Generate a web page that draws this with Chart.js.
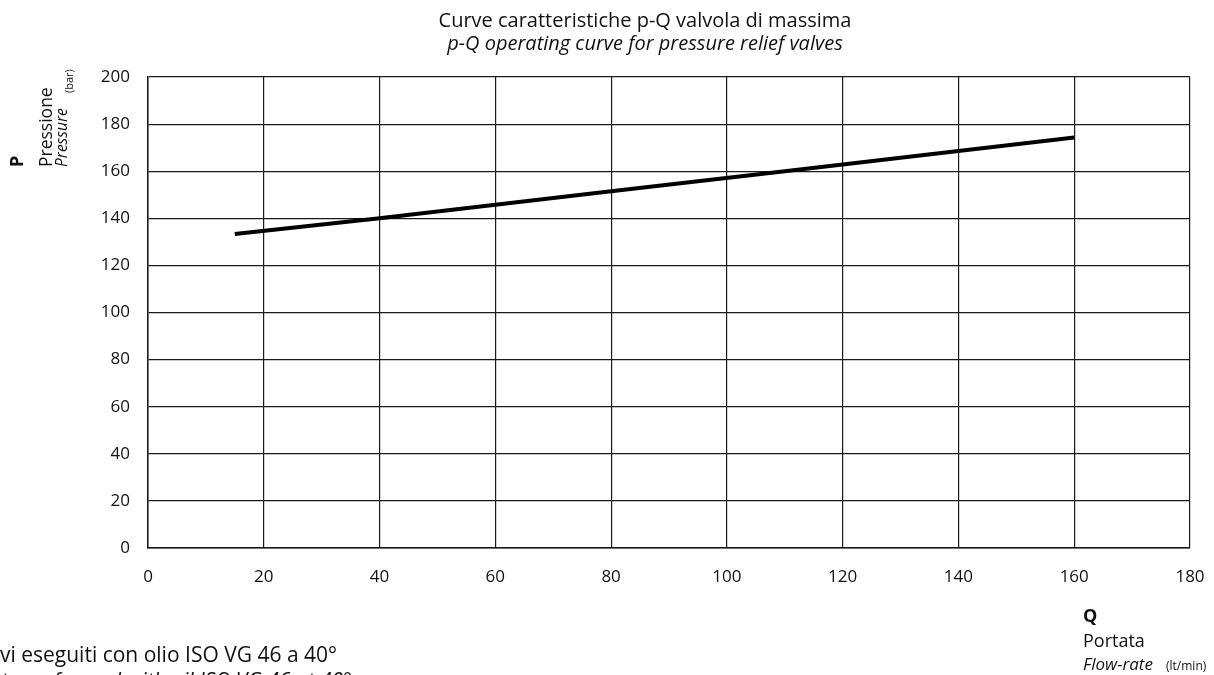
<!DOCTYPE html>
<html>
<head>
<meta charset="utf-8">
<script src="https://cdn.jsdelivr.net/npm/chart.js@4"></script>
<style>
  html, body { margin: 0; padding: 0; background: #fff; }
  #wrap { width: 1214px; height: 675px; }
</style>
</head>
<body>
<div id="wrap"><canvas id="chart" width="1214" height="675"></canvas></div>
<script>
'use strict';

// p-Q curve
const flowRate = [15, 40, 80, 110, 160];          // Q (lt/min)
const pressure = [133.3, 140, 151.5, 160, 174.3]; // P (bar)

const xTicks = [0, 20, 40, 60, 80, 100, 120, 140, 160, 180];
const yTicks = [0, 20, 40, 60, 80, 100, 120, 140, 160, 180, 200];

const FONT = '"Open Sans", "Noto Sans", sans-serif';
const GRID = '#1a1a1a';

// titles and axis captions drawn as plain canvas text
const labelsPlugin = {
  id: 'labels',
  afterDraw(chart) {
    const c = chart.ctx;
    c.save();
    c.fillStyle = '#111';
    c.textBaseline = 'alphabetic';

    // title
    c.textAlign = 'center';
    c.font = '20px ' + FONT;
    c.fillText('Curve caratteristiche p-Q valvola di massima', 645, 27);
    c.font = 'italic 20px ' + FONT;
    c.fillText('p-Q operating curve for pressure relief valves', 645, 50);

    // y axis caption (rotated, reads bottom to top)
    c.save();
    c.rotate(-Math.PI / 2);
    c.textAlign = 'left';
    c.font = 'bold 18px ' + FONT;
    c.fillText('P', -167, 23);
    c.font = '17.5px ' + FONT;
    c.fillText('Pressione', -167, 52);
    c.font = 'italic 15.5px ' + FONT;
    c.fillText('Pressure', -167, 67);
    c.font = '11px ' + FONT;
    c.fillText('(bar)', -93, 73);
    c.restore();

    // x axis caption
    c.textAlign = 'left';
    c.font = 'bold 18px ' + FONT;
    c.fillText('Q', 1083, 622);
    c.font = '18px ' + FONT;
    c.fillText('Portata', 1083, 647);
    c.font = 'italic 17px ' + FONT;
    c.fillText('Flow-rate', 1083, 670);
    c.font = '12px ' + FONT;
    c.fillText('(lt/min)', 1166, 670);

    // test conditions note (cut at the page edge)
    c.font = '21px ' + FONT;
    c.fillText('Rilievi eseguiti con olio ISO VG 46 a 40°', -c.measureText('Rilie').width, 662);
    c.font = 'italic 21px ' + FONT;
    c.fillText('Tests performed with oil ISO VG 46 at 40°',
      199 - c.measureText('Tests performed with oil ').width, 688);
    c.restore();
  }
};

new Chart(document.getElementById('chart'), {
  type: 'scatter',
  data: {
    datasets: [{
      data: flowRate.map((q, i) => ({ x: q, y: pressure[i] })),
      showLine: true,
      borderColor: '#000',
      borderWidth: 4,
      pointRadius: 0,
      tension: 0
    }]
  },
  options: {
    responsive: false,
    animation: false,
    layout: { padding: { top: 77, right: 24, bottom: 77, left: 0 } },
    plugins: { legend: { display: false }, tooltip: { enabled: false } },
    scales: {
      x: {
        type: 'linear',
        min: 0, max: 180,
        afterBuildTicks: s => { s.ticks = xTicks.map(v => ({ value: v })); },
        afterFit: s => { s.height = 50; s.paddingLeft = 0; s.paddingRight = 0; },
        grid: { color: GRID, lineWidth: 1.2, drawTicks: false },
        border: { color: GRID, width: 1.5 },
        ticks: { color: '#111', padding: 19, maxRotation: 0, font: { family: FONT, size: 17 } }
      },
      y: {
        type: 'linear',
        min: 0, max: 200,
        afterBuildTicks: s => { s.ticks = yTicks.map(v => ({ value: v })); },
        afterFit: s => { s.width = 148; s.paddingTop = 0; s.paddingBottom = 0; },
        grid: { color: GRID, lineWidth: 1.2, drawTicks: false },
        border: { color: GRID, width: 1.5 },
        ticks: { color: '#111', padding: 18, font: { family: FONT, size: 17 } }
      }
    }
  },
  plugins: [labelsPlugin]
});
</script>
</body>
</html>
